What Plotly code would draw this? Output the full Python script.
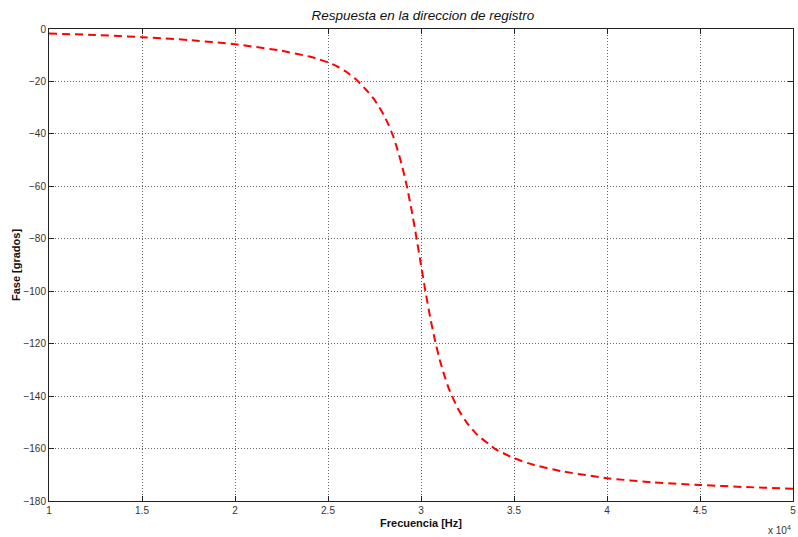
import plotly.graph_objects as go

# Frequency in units of 1e4 Hz (axis shows "x 10^4")
freq = [1.00, 1.25, 1.50, 1.75, 2.00, 2.25, 2.40, 2.45, 2.50, 2.55, 2.60, 2.65, 2.70, 2.75,
        2.80, 2.825, 2.85, 2.875, 2.90, 2.925, 2.95, 2.975, 3.00, 3.025, 3.05,
        3.075, 3.10, 3.125, 3.15, 3.20, 3.25, 3.30, 3.40, 3.50, 3.60, 3.75,
        4.00, 4.25, 4.50, 4.75, 5.00]
phase = [-1.7, -2.3, -3.1, -4.2, -5.8, -8.3, -10.5, -11.5, -12.7, -14.3, -16.4, -19.2, -22.8, -27.0,
         -32.8, -36.5, -40.8, -46.3, -52.7, -60.3, -69.3, -79.4, -90.0, -100.5, -110.2,
         -118.7, -126.0, -132.0, -137.2, -145.0, -150.5, -154.6, -160.2, -163.7, -166.1, -168.6,
         -171.3, -172.9, -173.9, -174.7, -175.3]

x_ticks = [1, 1.5, 2, 2.5, 3, 3.5, 4, 4.5, 5]
x_ticktext = ["1", "1.5", "2", "2.5", "3", "3.5", "4", "4.5", "5"]
y_ticks = [0, -20, -40, -60, -80, -100, -120, -140, -160, -180]

font = "Liberation Sans, Arial, sans-serif"

fig = go.Figure()
fig.add_trace(go.Scatter(
    x=freq, y=phase, mode="lines",
    line=dict(color="#ff0000", width=2, dash="8px,5px", shape="spline", smoothing=0.4),
    showlegend=False, hoverinfo="skip",
))

axis_common = dict(
    showline=True, linecolor="#222", linewidth=1, mirror="allticks",
    ticks="inside", ticklen=5, tickcolor="#222",
    showgrid=True, gridcolor="#666", griddash="1px,2px", gridwidth=1,
    zeroline=False, tickfont=dict(family=font, size=10, color="#333"),
    ticklabeloverflow="allow",
)

fig.update_layout(
    width=798, height=537,
    margin=dict(l=49, r=2, t=29, b=36),
    paper_bgcolor="white", plot_bgcolor="white",
    title=dict(text="<i>Respuesta en la direccion de registro</i>",
               x=0.53, xanchor="center", y=0.972, yanchor="middle",
               font=dict(family=font, size=13.5, color="#111")),
    xaxis=dict(range=[1, 5], tickvals=x_ticks, ticktext=x_ticktext,
               title=dict(text="<b>Frecuencia [Hz]</b>", standoff=4,
                          font=dict(family=font, size=11, color="#111")),
               **axis_common),
    yaxis=dict(range=[-180, 0], tickvals=y_ticks,
               title=dict(text="<b>Fase [grados]</b>", standoff=0,
                          font=dict(family=font, size=11, color="#111")),
               **axis_common),
    annotations=[dict(text="x 10<sup>4</sup>", xref="paper", yref="paper",
                      x=1.0, y=-0.045, xanchor="right", yanchor="top", showarrow=False,
                      font=dict(family=font, size=10, color="#333"))],
)

fig.write_html("out.html")
